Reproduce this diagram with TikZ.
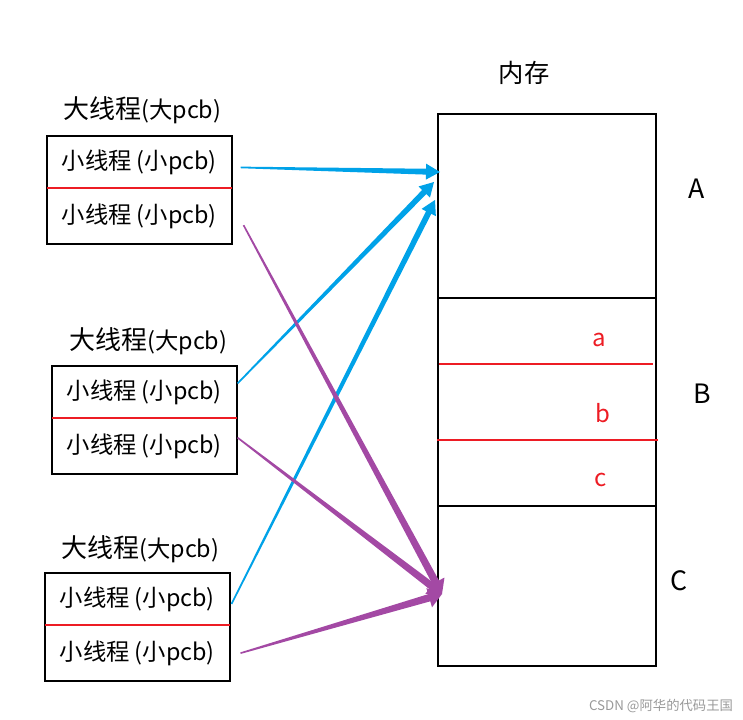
\documentclass[tikz,border=0pt]{standalone}
\usepackage{fontspec}
\newfontfamily\cjk{Noto Sans CJK SC}
\usetikzlibrary{calc,positioning}
\definecolor{paintblue}{HTML}{00A2E8}
\definecolor{paintpurple}{HTML}{A349A4}
\definecolor{paintred}{HTML}{ED1C24}

% tapered brush arrow: colour, start, tip, shaft half width, head half width, head length
\newcommand\taperarrow[6]{%
  \coordinate (tb) at ($(#3)!#6!(#2)$);
  \fill[#1] ($(#2)!0.6pt!90:(#3)$) -- ($(tb)!#4!-90:(#2)$) -- ($(tb)!#5!-90:(#2)$)
    -- (#3) -- ($(tb)!#5!90:(#2)$) -- ($(tb)!#4!90:(#2)$) -- ($(#2)!0.6pt!-90:(#3)$) -- cycle;
}

\begin{document}
\begin{tikzpicture}[x=0.75pt, y=-0.75pt,
thread/.style={minimum width=138pt, inner sep=0pt, font=\cjk\fontsize{17.5}{20}\selectfont},
title/.style={inner sep=0pt, font=\cjk\fontsize{17.5}{20}\selectfont},
boxline/.style={draw=black, line width=1.5pt},
split/.style={draw=paintred, line width=1.2pt},
memlabel/.style={font=\cjk\fontsize{19}{22}\selectfont},
partlabel/.style={text=paintred, font=\cjk\fontsize{18}{21}\selectfont}
]
\useasboundingbox (0,0) rectangle (743,720);

% left: three big threads
\node[thread, minimum height=38.5pt, anchor=north west] (s11) at (47,136) {小线程 (小pcb)};
\node[thread, minimum height=42pt, anchor=north] (s12) at (s11.south) {小线程 (小pcb)};
\node[thread, minimum height=38.5pt, anchor=north west] (s21) at (52,366) {小线程 (小pcb)};
\node[thread, minimum height=42pt, anchor=north] (s22) at (s21.south) {小线程 (小pcb)};
\node[thread, minimum height=38.5pt, anchor=north west] (s31) at (45,573) {小线程 (小pcb)};
\node[thread, minimum height=42pt, anchor=north] (s32) at (s31.south) {小线程 (小pcb)};

\foreach \i in {1,2,3} {
  \draw[boxline] (s\i1.north west) rectangle (s\i2.south east);
  \draw[split] (s\i1.south west) -- (s\i1.south east);
}

\node[title] (g1) at ($(s11.north)+(3,-26)$) {{\fontsize{19.5}{22}\selectfont 大线程}(大pcb)};
\node[title] (g2) at ($(s21.north)+(4,-25)$) {{\fontsize{19.5}{22}\selectfont 大线程}(大pcb)};
\node[title] (g3) at ($(s31.north)+(3,-24)$) {{\fontsize{19.5}{22}\selectfont 大线程}(大pcb)};

% right: memory
\node[draw, line width=1.8pt, minimum width=163.5pt, minimum height=414pt, inner sep=0pt, anchor=north west] (mem) at (437,113) {};
\node[memlabel] (memtitle) at ($(mem.north)+(-23,-40)$) {内存};
\draw[line width=1.8pt] (mem.west |- 0,298) -- (mem.east |- 0,298);
\draw[line width=1.8pt] (mem.west |- 0,506) -- (mem.east |- 0,506);
\draw[split] (439,364) -- (653,364);
\draw[split] (437,440) -- (658,440);

\node[partlabel] (pa) at (599,340) {a};
\node[partlabel] (pb) at (603,413) {b};
\node[partlabel] (pc) at (601,480) {c};
\node[memlabel, font=\cjk\fontsize{20}{23}\selectfont] (la) at (697,189) {A};
\node[memlabel, font=\cjk\fontsize{20}{23}\selectfont] (lb) at (702,394) {B};
\node[memlabel, font=\cjk\fontsize{20}{23}\selectfont] (lc) at (679,581) {C};

% arrows
\coordinate (b1) at ($(s11.east)+(9,5.5)$);
\coordinate (b2) at ($(s21.east)+(1,-8.5)$);
\coordinate (b3) at ($(s31.east)+(2,5)$);
\coordinate (p1) at ($(s12.east)+(12,9)$);
\coordinate (p2) at ($(s22.east)+(1,-8.5)$);
\coordinate (p3) at ($(s32.east)+(11,0)$);
\coordinate (tipA1) at ($(mem.north west)+(3,59)$);
\coordinate (tipA2) at ($(mem.north west)+(-3,69)$);
\coordinate (tipA3) at ($(mem.north west)+(-2,87)$);
\coordinate (tipC) at ($(mem.north west)+(5,481)$);

\taperarrow{paintblue}{b1}{tipA1}{2.2pt}{6pt}{10.5pt}
\taperarrow{paintblue}{b2}{tipA2}{2.2pt}{6pt}{10.5pt}
\taperarrow{paintblue}{b3}{tipA3}{2.2pt}{6pt}{10.5pt}
\taperarrow{paintpurple}{p1}{tipC}{2.8pt}{7.5pt}{10pt}
\taperarrow{paintpurple}{p2}{tipC}{2.8pt}{7.5pt}{10pt}
\taperarrow{paintpurple}{p3}{tipC}{2.8pt}{7.5pt}{10pt}

\node[text=black!40, font=\cjk\fontsize{10}{12}\selectfont] (mark) at (661,706) {CSDN @阿华的代码王国};
\end{tikzpicture}
\end{document}
